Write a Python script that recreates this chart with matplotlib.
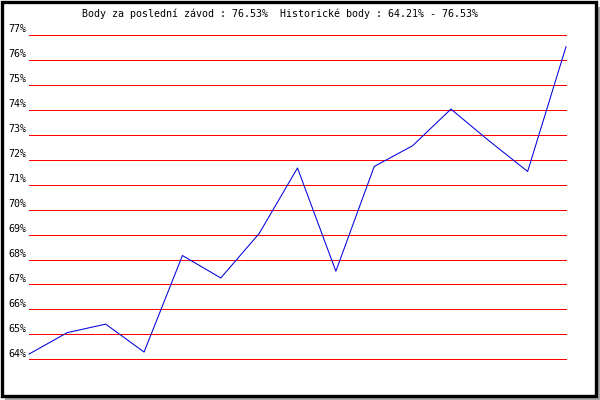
import matplotlib.pyplot as plt
from matplotlib.patches import Rectangle
from matplotlib.transforms import offset_copy

# values
races = list(range(1, 16))
points = [64.21, 65.07, 65.41, 64.29, 68.16, 67.26, 69.04, 71.67,
          67.53, 71.73, 72.56, 74.03, 72.75, 71.53, 76.53]
levels = list(range(64, 78))
level_labels = ["%d%%" % v for v in levels]
title = "Body za poslední závod : 76.53%  Historické body : 64.21% - 76.53%"

W, H = 600, 400
fig = plt.figure(figsize=(6, 4), dpi=100)
fig.patch.set_facecolor("white")

# shadow + black frame
fig.add_artist(Rectangle((5 / W, 0), 1 - 5 / W, (H - 7) / H,
                         transform=fig.transFigure, facecolor="#a8a8a8",
                         edgecolor="none", zorder=-2))
fig.add_artist(Rectangle((1.5 / W, 4.5 / H), 594 / W, (H - 6) / H,
                         transform=fig.transFigure, facecolor="white",
                         edgecolor="black", linewidth=2.4, zorder=-1))

ax = fig.add_axes([29 / W, (H - 359.3) / H, 537 / W, 324.3 / H])
ax.set_zorder(1)
ax.set_facecolor("none")
ax.set_xlim(races[0], races[-1])
ax.set_ylim(levels[0], levels[-1])
for s in ax.spines.values():
    s.set_visible(False)
ax.set_xticks([])
ax.set_yticks([])

ax.hlines(levels, races[0], races[-1], colors="#ff0000", linewidth=0.72,
          clip_on=False, antialiased=False, zorder=1)
ax.plot(races, points, color="#0000dd", linewidth=0.75, clip_on=False,
        antialiased=True, zorder=2)

font = dict(family="DejaVu Sans Mono", size=7.2, color="black")
lbl_tr = offset_copy(ax.get_yaxis_transform(), fig=fig, x=0, y=5.5, units="dots")
for v, t in zip(levels, level_labels):
    ax.text(-21 / 537, v, t, transform=lbl_tr, ha="left", va="center",
            clip_on=False, **font)

fig.text(82 / W, (H - 14) / H, title, ha="left", va="center", **font)

fig.savefig("out.png", dpi=100)
